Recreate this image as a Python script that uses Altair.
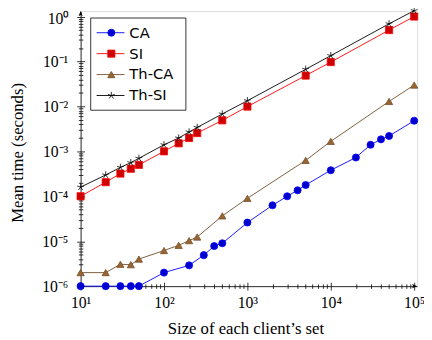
import altair as alt
import pandas as pd

# ---------------- data ----------------
names = ["CA", "SI", "Th-CA", "Th-SI"]

x_ca = [10, 20, 30, 40, 50, 100, 200, 300, 400, 500, 1000, 2000, 3000, 4000,
        5000, 10000, 20000, 30000, 40000, 50000, 100000]
y_ca = [1e-6, 1e-6, 1e-6, 1e-6, 1e-6, 2e-6, 2.9e-6, 4.9e-6, 7.8e-6, 9e-6,
        2.6e-5, 6.3e-5, 1.0e-4, 1.36e-4, 1.78e-4, 3.8e-4, 7.3e-4, 1.4e-3,
        1.85e-3, 2.2e-3, 4.8e-3]

x_th = [10, 20, 30, 40, 50, 100, 150, 200, 250, 500, 1000, 5000, 10000,
        50000, 100000]
y_si = [1e-4, 2.06e-4, 3.2e-4, 4.1e-4, 5e-4, 1.0e-3, 1.51e-3, 1.98e-3,
        2.55e-3, 4.9e-3, 9.9e-3, 4.85e-2, 9.7e-2, 0.5, 1.0]
y_thca = [2e-6, 2e-6, 3.07e-6, 3e-6, 4e-6, 6.2e-6, 8.1e-6, 1.03e-5, 1.24e-5,
          3.66e-5, 9.0e-5, 6.3e-4, 1.67e-3, 1.29e-2, 2.99e-2]
y_thsi = [1.6e-4, 2.98e-4, 4.4e-4, 5.6e-4, 7e-4, 1.4e-3, 1.98e-3, 2.7e-3,
          3.4e-3, 6.8e-3, 1.34e-2, 6.7e-2, 0.135, 0.69, 1.35]

x_major = [10, 100, 1000, 10000, 100000]
x_major_labels = ["10¹", "10²", "10³", "10⁴", "10⁵"]
y_major = [1e-6, 1e-5, 1e-4, 1e-3, 1e-2, 1e-1, 1.0]
y_major_labels = ["10⁻⁶", "10⁻⁵", "10⁻⁴", "10⁻³", "10⁻²", "10⁻¹", "10⁰"]

# ---------------- styles ----------------
line_colors = ["#0000ff", "#ff0000", "#734d26", "#000000"]
fill_colors = ["#0000cc", "#cc0000", "#996633", "transparent"]
star = ("M0,0L0,-1M0,0L0.951,-0.309M0,0L0.588,0.809M0,0L-0.588,0.809"
        "M0,0L-0.951,-0.309")
shapes = ["circle", "square", "triangle-up", star]
sizes = [52, 55, 60, 44]

W, H = 343, 280.3
SERIF = "Liberation Serif"
SANS = "DejaVu Sans"

frames = []
for nm, xs, ys in [("CA", x_ca, y_ca), ("SI", x_th, y_si),
                   ("Th-CA", x_th, y_thca), ("Th-SI", x_th, y_thsi)]:
    frames.append(pd.DataFrame({"series": nm, "x": xs, "y": ys}))
df = pd.concat(frames, ignore_index=True)

x_ticks = sorted(set(x_major + [k * 10 ** d for d in range(1, 5) for k in range(2, 10)]))
y_ticks = sorted(set(y_major + [k * 10.0 ** d for d in range(-6, 0) for k in range(2, 10)]))


def label_expr(majors, labels):
    expr = "''"
    for v, l in reversed(list(zip(majors, labels))):
        expr = f"abs(datum.value/{v!r} - 1) < 1e-6 ? '{l}' : ({expr})"
    return expr


major_test = "abs(log(datum.value)/LN10 - round(log(datum.value)/LN10)) < 0.001"
tick_size = {"condition": {"test": major_test, "value": 4}, "value": 2.3}

xscale = alt.Scale(type="log", domain=[10, 1.085e5], nice=False)
yscale = alt.Scale(type="log", domain=[1e-6, 1.32], nice=False)

common_axis = dict(grid=False, tickColor="black", tickWidth=0.8,
                   tickSize=tick_size)

x_axis_main = alt.Axis(orient="bottom", values=x_ticks,
                       labelExpr=label_expr(x_major, x_major_labels),
                       labelOverlap=False, labelFlush=False,
                       labelFont=SERIF, labelFontSize=16, labelColor="black",
                       labelPadding=5, domainColor="black", domainWidth=0.8,
                       title="Size of each client’s set", titleFont=SERIF,
                       titleFontSize=17, titleFontWeight="normal",
                       titleColor="black", titleBaseline="alphabetic",
                       titleY=48, titleX=168, **common_axis)
x_axis_inner = alt.Axis(orient="top", offset=-H, values=x_ticks, labels=False,
                        domain=False, title=None, **common_axis)
y_axis_main = alt.Axis(orient="left", values=y_ticks,
                       labelExpr=label_expr(y_major, y_major_labels),
                       labelOverlap=False, labelFlush=False,
                       labelFont=SERIF, labelFontSize=16, labelColor="black",
                       labelPadding=9, domainColor="black", domainWidth=0.8,
                       labelOffset={"condition": {"test": "datum.value > 0.5", "value": 2}, "value": 0},
                       title="Mean time (seconds)", titleFont=SERIF,
                       titleFontSize=17, titleFontWeight="normal",
                       titleColor="black", titleX=-55, titleY=144,
                       **common_axis)
y_axis_inner = alt.Axis(orient="right", offset=-W, values=y_ticks, labels=False,
                        domain=False, title=None, **common_axis)

stroke_enc = alt.Stroke("series:N", scale=alt.Scale(domain=names, range=line_colors), legend=None)
fill_enc = alt.Fill("series:N", scale=alt.Scale(domain=names, range=fill_colors), legend=None)
shape_enc = alt.Shape("series:N", scale=alt.Scale(domain=names, range=shapes), legend=None)
size_enc = alt.Size("series:N", scale=alt.Scale(domain=names, range=sizes), legend=None)

lines = alt.Chart(df).mark_line(strokeWidth=0.9, clip=False).encode(
    x=alt.X("x:Q", scale=xscale, axis=x_axis_main),
    y=alt.Y("y:Q", scale=yscale, axis=y_axis_main),
    stroke=stroke_enc,
    detail="series:N",
)
points = alt.Chart(df).mark_point(filled=True, opacity=1, strokeWidth=0.8, clip=False).encode(
    x=alt.X("x:Q", scale=xscale, axis=x_axis_inner),
    y=alt.Y("y:Q", scale=yscale, axis=y_axis_inner),
    stroke=stroke_enc, fill=fill_enc, shape=shape_enc, size=size_enc,
)
data_layer = alt.layer(lines, points).resolve_axis(x="independent", y="independent")

# ---------------- legend ----------------
leg_df = pd.DataFrame({"series": names})
one = pd.DataFrame({"k": [0]})
y_leg = alt.Y("series:N", scale=alt.Scale(type="point", domain=names, range=[22, 86], padding=0), axis=None)

box = alt.Chart(one).mark_rect(fill="white", stroke="black", strokeWidth=0.8).encode(
    x=alt.value(10.3), x2=alt.value(107.3), y=alt.value(7), y2=alt.value(101))
leg_lines = alt.Chart(leg_df).mark_rule(strokeWidth=0.9).encode(
    x=alt.value(16.3), x2=alt.value(44.7), y=y_leg, stroke=stroke_enc)
leg_pts = alt.Chart(leg_df).mark_point(filled=True, opacity=1, strokeWidth=0.8).encode(
    x=alt.value(31.3), y=y_leg, stroke=stroke_enc, fill=fill_enc,
    shape=shape_enc, size=size_enc)
leg_text = alt.Chart(leg_df).mark_text(align="left", baseline="middle", font=SANS,
                                       fontSize=15, color="black").encode(
    x=alt.value(49.7), y=y_leg, text="series:N")

# axis arrow heads
arrow_r = "M1,0L-1,-0.8L-0.5,0L-1,0.8Z"
arrow_u = "M0,-1L-0.8,1L0,0.5L0.8,1Z"
arr_x = alt.Chart(one).mark_point(shape=arrow_r, filled=True, color="black", size=28, opacity=1).encode(
    x=alt.value(W - 2.6), y=alt.value(H))
arr_y = alt.Chart(one).mark_point(shape=arrow_u, filled=True, color="black", size=28, opacity=1).encode(
    x=alt.value(0), y=alt.value(2.6))

legend_layer = alt.layer(box, leg_lines, leg_pts, leg_text, arr_x, arr_y)

chart = alt.layer(data_layer, legend_layer).resolve_scale(y="independent").properties(
    width=W, height=H,
    autosize=alt.AutoSizeParams(type="none"),
    padding={"left": 74, "top": 0, "right": 7, "bottom": 51.7},
).configure_view(stroke=None).configure(background="white")

chart.save("out.html", embed_options={"renderer": "svg", "actions": False})
